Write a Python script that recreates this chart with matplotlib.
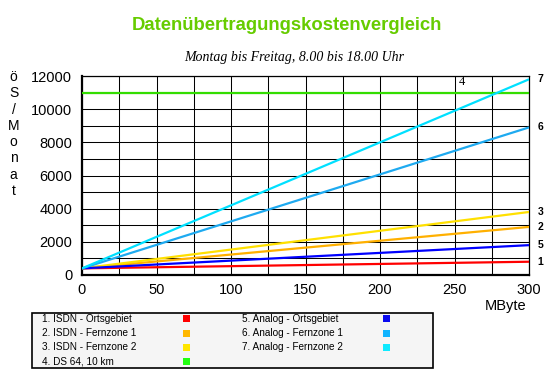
import matplotlib
matplotlib.use("Agg")
import matplotlib.pyplot as plt
from matplotlib.patches import Rectangle

# ---- data ----
x_mb = [0, 300]
series_names = [
    "1. ISDN - Ortsgebiet",
    "2. ISDN - Fernzone 1",
    "3. ISDN - Fernzone 2",
    "4. DS 64, 10 km",
    "5. Analog - Ortsgebiet",
    "6. Analog - Fernzone 1",
    "7. Analog - Fernzone 2",
]
series_labels = ["1", "2", "3", "4", "5", "6", "7"]
series_values = [
    [400, 800],     # 1 ISDN Ortsgebiet
    [400, 2900],    # 2 ISDN Fernzone 1
    [400, 3800],    # 3 ISDN Fernzone 2
    [11000, 11000], # 4 DS 64
    [400, 1800],    # 5 Analog Ortsgebiet
    [400, 8900],    # 6 Analog Fernzone 1
    [400, 11800],   # 7 Analog Fernzone 2
]
line_colors = ["#ff0000", "#ffb000", "#ffe000", "#33dd00", "#0000ff", "#1eaaf0", "#00e0ff"]
legend_colors = ["#ff0000", "#ffb800", "#ffe600", "#22ff11", "#0a0af0", "#10b4ff", "#10eaff"]
x_ticks = [0, 50, 100, 150, 200, 250, 300]
y_ticks = [0, 2000, 4000, 6000, 8000, 10000, 12000]
ylabel_chars = ["ö", "S", "/", "M", "o", "n", "a", "t"]
title = "Datenübertragungskostenvergleich"
subtitle = "Montag bis Freitag, 8.00 bis 18.00 Uhr"

W, H = 560, 380
fig = plt.figure(figsize=(W / 100, H / 100), dpi=100)
fig.patch.set_facecolor("white")
sans = ["Liberation Sans", "DejaVu Sans"]

ax = fig.add_axes([82 / W, 1 - 275 / H, (529 - 82) / W, (275 - 76) / H])
ax.set_xlim(0, 300)
ax.set_ylim(0, 12000)

ax.set_xticks(x_ticks)
ax.set_xticks(range(0, 301, 25), minor=True)
ax.set_yticks(y_ticks)
ax.set_yticks(range(0, 12001, 1000), minor=True)
ax.set_xticklabels([str(v) for v in x_ticks], fontfamily=sans, fontsize=10.5)
ax.set_yticklabels([str(v) for v in y_ticks], fontfamily=sans, fontsize=10.5)
ax.tick_params(which="both", length=0)
ax.tick_params(axis="x", pad=6)
ax.tick_params(axis="y", pad=7)
ax.grid(True, which="both", color="black", linewidth=0.75)
ax.set_axisbelow(True)
for side in ["left", "bottom"]:
    ax.spines[side].set_linewidth(1.6)
for side in ["top", "right"]:
    ax.spines[side].set_linewidth(0.9)

for i, vals in enumerate(series_values):
    ax.plot(x_mb, vals, color=line_colors[i], linewidth=1.6, solid_capstyle="butt", zorder=3 + i)

# end labels
for i, vals in enumerate(series_values):
    if series_labels[i] == "4":
        ax.annotate("4", xy=(255, vals[-1]), xytext=(0, 3), textcoords="offset points",
                    ha="center", va="bottom", fontsize=9, fontfamily=["Liberation Serif", "DejaVu Serif"],
                    annotation_clip=False)
    else:
        ax.annotate(series_labels[i], xy=(x_mb[-1], vals[-1]), xytext=(6, 0), textcoords="offset points",
                    ha="left", va="center", fontsize=7.5, fontweight="bold", fontfamily=sans,
                    annotation_clip=False)

# titles
fig.text(287 / W, 1 - 25 / H, title, ha="center", va="center", fontsize=13.3,
         fontweight="bold", color="#66cc00", fontfamily=sans)
fig.text(294 / W, 1 - 57 / H, subtitle, ha="center", va="center", fontsize=10,
         fontstyle="italic", fontfamily=["Liberation Serif", "DejaVu Serif"])

# vertical y label
for k, ch in enumerate(ylabel_chars):
    fig.text(13.5 / W, 1 - (77 + k * 16.3) / H, ch, ha="center", va="center",
             fontsize=10, fontfamily=sans)

fig.text(506 / W, 1 - 306 / H, "MByte", ha="center", va="center", fontsize=10.5, fontfamily=sans)

# custom legend box
lx0, lx1, ly0, ly1 = 32, 433, 313, 368
fig.patches.append(Rectangle((lx0 / W, 1 - ly1 / H), (lx1 - lx0) / W, (ly1 - ly0) / H,
                             transform=fig.transFigure, facecolor="#f5f5f5",
                             edgecolor="black", linewidth=1.2))
row_y = [318.5, 333, 347, 361.5]
for i, name in enumerate(series_names):
    col = 0 if i < 4 else 1
    row = i if i < 4 else i - 4
    tx = 42 if col == 0 else 242
    mx = 183 if col == 0 else 383
    y = row_y[row]
    fig.text(tx / W, 1 - y / H, name, ha="left", va="center", fontsize=7.2,
             fontfamily=sans)
    fig.patches.append(Rectangle((mx / W, 1 - (y + 3.5) / H), 7 / W, 7 / H,
                                 transform=fig.transFigure, facecolor=legend_colors[i],
                                 edgecolor="none"))

fig.savefig("out.png", dpi=100)
